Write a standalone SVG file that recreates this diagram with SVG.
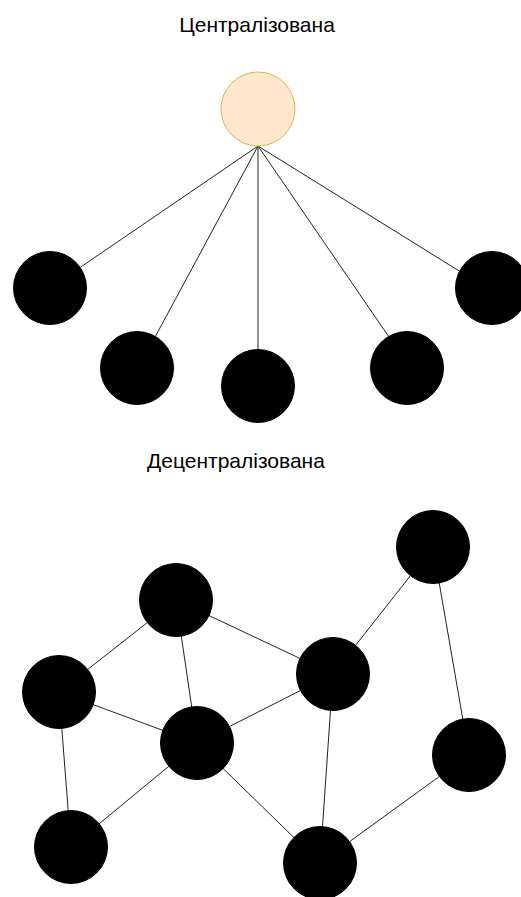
<svg xmlns="http://www.w3.org/2000/svg" width="521" height="897" viewBox="0 0 521 897">
  <style>
    .title { font-family: "Liberation Sans", Arial, sans-serif; font-size: 21px; fill: #000; text-anchor: middle; }
    .edge { stroke: #222; stroke-width: 1; fill: none; }
    .peer { fill: #000; stroke: #000; stroke-width: 1; }
    .hub { fill: #ffe6cc; stroke: #d6b656; stroke-width: 1; }
  </style>
  <rect width="521" height="897" fill="#fff"/>

  <text class="title" x="257" y="32">Централізована</text>
  <text class="title" x="236" y="468">Децентралізована</text>

  <!-- Connectors: star topology from the hub, mesh links between peers -->
  <g id="connectors">
    <line class="edge" x1="258" y1="146" x2="80.6" y2="267.1"/>
    <line class="edge" x1="258" y1="146" x2="155.4" y2="336.4"/>
    <line class="edge" x1="258" y1="146" x2="258" y2="349"/>
    <line class="edge" x1="258" y1="146" x2="388.6" y2="336.4"/>
    <line class="edge" x1="258" y1="146" x2="459.2" y2="271"/>

    <line class="edge" x1="176" y1="600" x2="59" y2="692"/>
    <line class="edge" x1="176" y1="600" x2="197" y2="743"/>
    <line class="edge" x1="176" y1="600" x2="333" y2="674"/>
    <line class="edge" x1="59" y1="692" x2="197" y2="743"/>
    <line class="edge" x1="59" y1="692" x2="71" y2="847"/>
    <line class="edge" x1="197" y1="743" x2="333" y2="674"/>
    <line class="edge" x1="197" y1="743" x2="71" y2="847"/>
    <line class="edge" x1="197" y1="743" x2="320" y2="863"/>
    <line class="edge" x1="333" y1="674" x2="433" y2="547"/>
    <line class="edge" x1="333" y1="674" x2="320" y2="863"/>
    <line class="edge" x1="433" y1="547" x2="469" y2="755"/>
    <line class="edge" x1="469" y1="755" x2="320" y2="863"/>
  </g>

  <!-- Centralised network -->
  <g id="hub"><circle class="hub" cx="258" cy="109" r="37"/></g>
  <g id="client-1"><circle class="peer" cx="50" cy="288" r="36.5"/></g>
  <g id="client-2"><circle class="peer" cx="137" cy="368" r="36.5"/></g>
  <g id="client-3"><circle class="peer" cx="258" cy="386" r="36.5"/></g>
  <g id="client-4"><circle class="peer" cx="407" cy="368" r="36.5"/></g>
  <g id="client-5"><circle class="peer" cx="492" cy="288" r="36.5"/></g>

  <!-- Decentralised network -->
  <g id="peer-1"><circle class="peer" cx="433" cy="547" r="36.5"/></g>
  <g id="peer-2"><circle class="peer" cx="176" cy="600" r="36.5"/></g>
  <g id="peer-3"><circle class="peer" cx="59" cy="692" r="36.5"/></g>
  <g id="peer-4"><circle class="peer" cx="197" cy="743" r="36.5"/></g>
  <g id="peer-5"><circle class="peer" cx="333" cy="674" r="36.5"/></g>
  <g id="peer-6"><circle class="peer" cx="469" cy="755" r="36.5"/></g>
  <g id="peer-7"><circle class="peer" cx="71" cy="847" r="36.5"/></g>
  <g id="peer-8"><circle class="peer" cx="320" cy="863" r="36.5"/></g>
</svg>
